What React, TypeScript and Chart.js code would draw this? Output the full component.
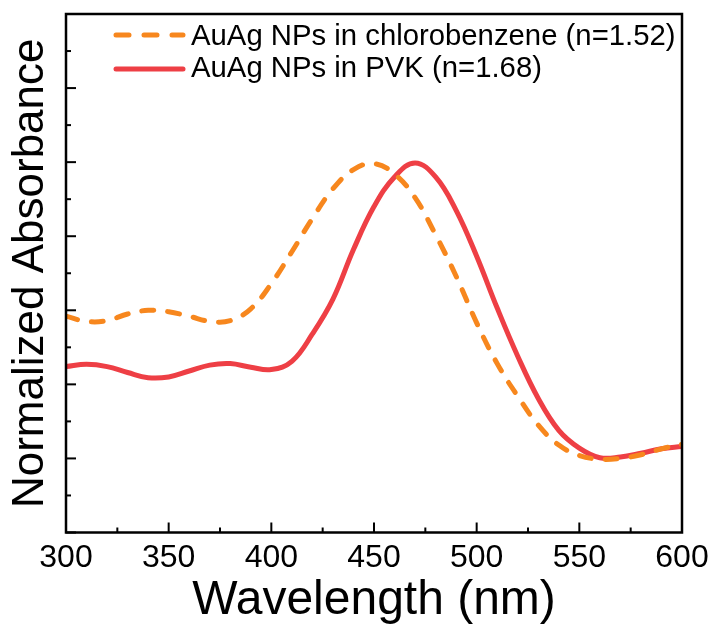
import React, { useEffect, useRef } from "react";
import { Chart, registerables } from "chart.js";

Chart.register(...registerables);

const wavelengths = [300, 310, 320, 330, 340, 350, 360, 370, 380, 390, 400, 410, 420, 430, 440, 450, 460, 470, 480, 490, 500, 510, 520, 530, 540, 550, 560, 570, 580, 590, 600];
const chlorobenzene = [2.92, 2.85, 2.86, 2.95, 3.0, 2.98, 2.92, 2.85, 2.86, 3.02, 3.36, 3.79, 4.24, 4.64, 4.9, 4.98, 4.84, 4.52, 4.02, 3.46, 2.83, 2.28, 1.84, 1.45, 1.18, 1.04, 0.99, 1.0, 1.05, 1.13, 1.19];
const pvk = [2.24, 2.27, 2.24, 2.16, 2.09, 2.1, 2.18, 2.26, 2.28, 2.23, 2.2, 2.31, 2.68, 3.15, 3.82, 4.4, 4.8, 4.99, 4.8, 4.35, 3.73, 3.03, 2.38, 1.81, 1.38, 1.14, 1.01, 1.02, 1.07, 1.13, 1.16];
const seriesLabels = ["AuAg NPs in chlorobenzene (n=1.52)", "AuAg NPs in PVK (n=1.68)"];
const seriesColors = ["#F7871E", "#EE3F45"];
const xTitle = "Wavelength (nm)";
const yTitle = "Normalized Absorbance";

const FONT = '"Liberation Sans", Arial, sans-serif';

const framePlugin = {
  id: "frameTicks",
  afterDraw(chart: any) {
    const { ctx, chartArea } = chart;
    const xs = chart.scales.x;
    const ys = chart.scales.y;
    ctx.save();
    ctx.strokeStyle = "#000";
    ctx.lineWidth = 2;
    const xv = xs.ticks.map((t: any) => t.value);
    xv.forEach((v: number, i: number) => {
      const px = xs.getPixelForValue(v);
      ctx.beginPath();
      ctx.moveTo(px, chartArea.bottom);
      ctx.lineTo(px, chartArea.bottom - 10);
      ctx.stroke();
      if (i < xv.length - 1) {
        const mp = xs.getPixelForValue((v + xv[i + 1]) / 2);
        ctx.beginPath();
        ctx.moveTo(mp, chartArea.bottom);
        ctx.lineTo(mp, chartArea.bottom - 5);
        ctx.stroke();
      }
    });
    const yv = ys.ticks.map((t: any) => t.value);
    yv.forEach((v: number, i: number) => {
      const py = ys.getPixelForValue(v);
      ctx.beginPath();
      ctx.moveTo(chartArea.left, py);
      ctx.lineTo(chartArea.left + 10, py);
      ctx.stroke();
      if (i < yv.length - 1) {
        const mp = ys.getPixelForValue((v + yv[i + 1]) / 2);
        ctx.beginPath();
        ctx.moveTo(chartArea.left, mp);
        ctx.lineTo(chartArea.left + 5, mp);
        ctx.stroke();
      }
    });
    ctx.lineWidth = 2.5;
    ctx.strokeRect(chartArea.left, chartArea.top, chartArea.right - chartArea.left, chartArea.bottom - chartArea.top);

    const rows = [
      { lineY: 35, textY: 45, dash: [13, 15] },
      { lineY: 69, textY: 77, dash: [] as number[] },
    ];
    rows.forEach((r, i) => {
      ctx.beginPath();
      ctx.setLineDash(r.dash);
      ctx.lineCap = "round";
      ctx.lineWidth = 5;
      ctx.strokeStyle = seriesColors[i];
      ctx.moveTo(116, r.lineY);
      ctx.lineTo(183, r.lineY);
      ctx.stroke();
      ctx.setLineDash([]);
      ctx.fillStyle = "#000";
      ctx.font = `29.3px ${FONT}`;
      ctx.textBaseline = "alphabetic";
      ctx.textAlign = "left";
      ctx.fillText(seriesLabels[i], 191, r.textY);
    });
    ctx.restore();
  },
};

export default function App() {
  const ref = useRef<HTMLCanvasElement | null>(null);
  useEffect(() => {
    document.body.style.margin = "0";
    const canvas = ref.current;
    if (!canvas) return;
    const chart = new Chart(canvas, {
      type: "line",
      data: {
        datasets: [
          {
            label: seriesLabels[0],
            data: wavelengths.map((w, i) => ({ x: w, y: chlorobenzene[i] })),
            borderColor: seriesColors[0],
            borderWidth: 5,
            borderDash: [12, 14],
            borderCapStyle: "round",
            pointRadius: 0,
            tension: 0.4,
            fill: false,
          },
          {
            label: seriesLabels[1],
            data: wavelengths.map((w, i) => ({ x: w, y: pvk[i] })),
            borderColor: seriesColors[1],
            borderWidth: 5,
            pointRadius: 0,
            tension: 0.4,
            fill: false,
          },
        ],
      },
      options: {
        animation: false,
        responsive: false,
        layout: { padding: { top: 14, right: 31, left: 0, bottom: 0 } },
        plugins: { legend: { display: false }, tooltip: { enabled: false } },
        scales: {
          x: {
            type: "linear",
            min: 300,
            max: 600,
            grid: { display: false, drawTicks: false },
            border: { display: false },
            ticks: {
              stepSize: 50,
              padding: 10,
              color: "#000",
              font: { family: FONT, size: 32, lineHeight: 1 },
              maxRotation: 0,
            },
            title: {
              display: true,
              text: xTitle,
              color: "#000",
              font: { family: FONT, size: 48, lineHeight: 1 },
              padding: { top: 0, bottom: 0 },
            },
            afterFit: (s: any) => {
              s.height = 92.5;
              s.paddingLeft = 0;
              s.paddingRight = 0;
            },
          },
          y: {
            type: "linear",
            min: 0,
            max: 7,
            grid: { display: false, drawTicks: false },
            border: { display: false },
            ticks: { stepSize: 1, display: false },
            title: {
              display: true,
              text: yTitle,
              color: "#000",
              font: { family: FONT, size: 44, lineHeight: 1 },
              padding: { top: 8.5, bottom: 0 },
            },
            afterFit: (s: any) => {
              s.width = 66;
              s.paddingTop = 0;
              s.paddingBottom = 0;
            },
          },
        },
      },
      plugins: [framePlugin],
    } as any);
    return () => chart.destroy();
  }, []);
  return (
    <div style={{ width: 713, height: 625 }}>
      <canvas ref={ref} width={713} height={625} style={{ display: "block" }} />
    </div>
  );
}
